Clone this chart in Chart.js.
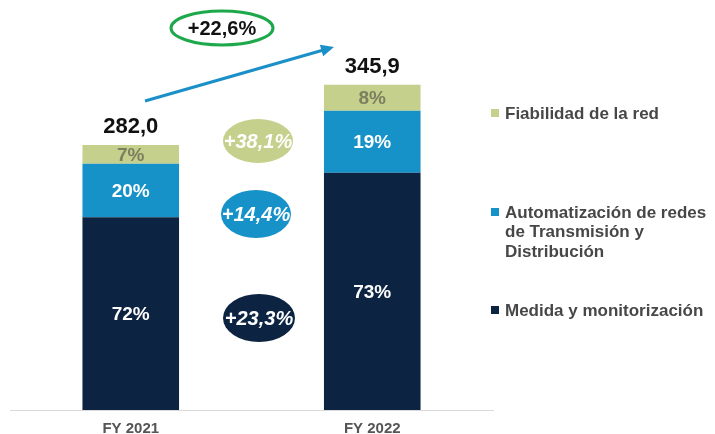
<!DOCTYPE html>
<html>
<head>
<meta charset="utf-8">
<script src="https://cdn.jsdelivr.net/npm/chart.js@4/dist/chart.umd.min.js"></script>
<style>
  html, body { margin: 0; padding: 0; background: #fff; }
  #inversion-chart { display: block; }
</style>
</head>
<body>
<canvas id="inversion-chart" width="715" height="434"></canvas>
<script>
const years = ['FY 2021', 'FY 2022'];
const totals = [282.0, 345.9];

// share of each year's total, in %
const medidaShare = [72, 73];
const automatizacionShare = [20, 19];
const fiabilidadShare = [7, 8];

// year-on-year growth per line of business and overall
const medidaGrowth = '+23,3%';
const automatizacionGrowth = '+14,4%';
const fiabilidadGrowth = '+38,1%';
const totalGrowth = '+22,6%';

const FONT = '"Liberation Sans", Arial, sans-serif';
const NAVY = '#0c2442';
const BLUE = '#1692c9';
const OLIVE = '#c4d08b';

const shareSum = years.map((_, i) => medidaShare[i] + automatizacionShare[i] + fiabilidadShare[i]);
const toValues = share => share.map((s, i) => totals[i] * s / shareSum[i]);
const fmt = v => v.toFixed(1).replace('.', ',');

const series = [
    { lines: ['Medida y monitorización'], share: medidaShare, color: NAVY, text: '#ffffff', growth: medidaGrowth },
    { lines: ['Automatización de redes', 'de Transmisión y', 'Distribución'], share: automatizacionShare, color: BLUE, text: '#ffffff', growth: automatizacionGrowth },
    { lines: ['Fiabilidad de la red'], share: fiabilidadShare, color: OLIVE, text: '#7c7f5f', growth: fiabilidadGrowth }
];

// where the growth bubbles and legend rows sit (first text line centre)
const bubbleSpots = [
    { x: 259, y: 318, rx: 36, ry: 24 },
    { x: 256, y: 214, rx: 35, ry: 24 },
    { x: 258, y: 141, rx: 35, ry: 22 }
];
const legendRows = [310, 212, 113];

const overlay = {
    id: 'overlay',
    afterDatasetsDraw(chart) {
        const ctx = chart.ctx;
        ctx.save();
        ctx.textAlign = 'center';
        ctx.textBaseline = 'middle';

        // share labels inside each segment
        series.forEach((s, d) => {
            chart.getDatasetMeta(d).data.forEach((bar, i) => {
                ctx.save();
                ctx.beginPath();
                ctx.rect(bar.x - bar.width / 2, bar.y, bar.width, bar.base - bar.y);
                ctx.clip();
                ctx.fillStyle = s.text;
                ctx.font = 'bold 19px ' + FONT;
                ctx.fillText(s.share[i] + '%', bar.x, (bar.y + bar.base) / 2 + 1);
                ctx.restore();
            });
        });

        // totals above the stacks
        const topMeta = chart.getDatasetMeta(series.length - 1);
        ctx.fillStyle = '#111';
        ctx.font = 'bold 22px ' + FONT;
        topMeta.data.forEach((bar, i) => {
            ctx.fillText(fmt(totals[i]), bar.x, bar.y - 18);
        });

        // growth bubbles between the bars
        series.forEach((s, d) => {
            const b = bubbleSpots[d];
            ctx.beginPath();
            ctx.ellipse(b.x, b.y, b.rx, b.ry, 0, 0, Math.PI * 2);
            ctx.fillStyle = s.color;
            ctx.fill();
            ctx.fillStyle = '#ffffff';
            ctx.font = 'italic bold 20px ' + FONT;
            ctx.fillText(s.growth, b.x, b.y + 1);
        });

        // overall growth arrow and label
        ctx.strokeStyle = '#1a8fc8';
        ctx.fillStyle = '#1a8fc8';
        ctx.lineWidth = 3;
        const x0 = 145, y0 = 101, x1 = 334, y1 = 47;
        const ang = Math.atan2(y1 - y0, x1 - x0);
        ctx.beginPath();
        ctx.moveTo(x0, y0);
        ctx.lineTo(x1 - 10 * Math.cos(ang), y1 - 10 * Math.sin(ang));
        ctx.stroke();
        ctx.beginPath();
        ctx.moveTo(x1, y1);
        ctx.lineTo(x1 - 13 * Math.cos(ang) + 6 * Math.sin(ang), y1 - 13 * Math.sin(ang) - 6 * Math.cos(ang));
        ctx.lineTo(x1 - 13 * Math.cos(ang) - 6 * Math.sin(ang), y1 - 13 * Math.sin(ang) + 6 * Math.cos(ang));
        ctx.closePath();
        ctx.fill();

        ctx.beginPath();
        ctx.ellipse(222, 28, 51, 17, 0, 0, Math.PI * 2);
        ctx.fillStyle = '#fff';
        ctx.fill();
        ctx.strokeStyle = '#1ea84c';
        ctx.lineWidth = 3;
        ctx.stroke();
        ctx.fillStyle = '#111';
        ctx.font = 'bold 20px ' + FONT;
        ctx.fillText(totalGrowth, 222, 29);

        // legend on the right
        ctx.textAlign = 'left';
        ctx.font = 'bold 17px ' + FONT;
        series.forEach((s, d) => {
            const y = legendRows[d];
            ctx.fillStyle = s.color;
            ctx.fillRect(491, y - 4, 8, 8);
            ctx.fillStyle = '#474747';
            s.lines.forEach((line, k) => ctx.fillText(line, 505, y + 1 + k * 19.5));
        });

        ctx.restore();
    }
};

new Chart(document.getElementById('inversion-chart').getContext('2d'), {
    type: 'bar',
    data: {
        labels: years,
        datasets: series.map(s => ({
            label: s.lines.join(' '),
            data: toValues(s.share),
            backgroundColor: s.color,
            borderWidth: 0,
            categoryPercentage: 1,
            barPercentage: 0.4
        }))
    },
    options: {
        responsive: false,
        animation: false,
        layout: { padding: { left: 10, right: 222, top: 34, bottom: 0 } },
        plugins: {
            legend: { display: false },
            tooltip: { enabled: false }
        },
        scales: {
            x: {
                stacked: true,
                grid: { display: false, drawTicks: false },
                border: { display: true, color: '#d9d9d9', width: 1 },
                ticks: {
                    padding: 10,
                    color: '#555',
                    font: { family: FONT, size: 15, weight: 'bold' }
                },
                afterFit(scale) { scale.height = 24; }
            },
            y: {
                stacked: true,
                display: false,
                min: 0,
                max: 400
            }
        }
    },
    plugins: [overlay]
});
</script>
</body>
</html>
